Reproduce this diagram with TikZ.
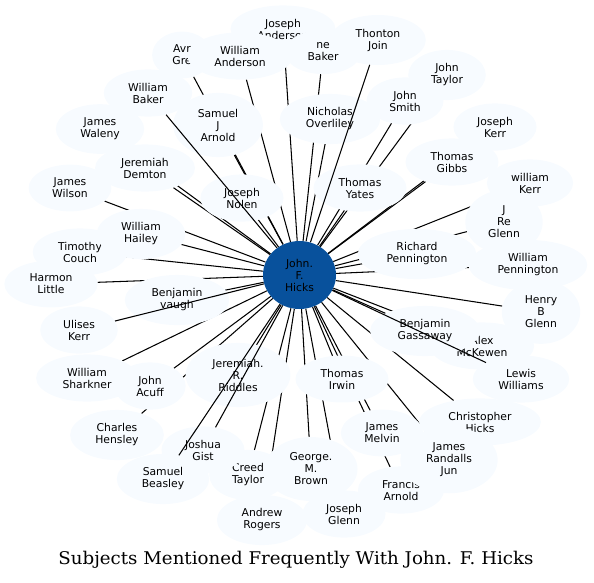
\documentclass[tikz,border=0pt]{standalone}
\usepackage{fontspec}
\setsansfont{DejaVu Sans}
\newfontfamily\titlefont{DejaVu Serif}
\usetikzlibrary{shapes.geometric}
\definecolor{nodefill}{HTML}{F7FBFF}
\definecolor{hubfill}{HTML}{08519C}
\pgfdeclarelayer{edgelayer}
\pgfdeclarelayer{overlayer}
\pgfdeclarelayer{hublayer}
\pgfsetlayers{edgelayer,main,overlayer,hublayer}
\tikzset{
  pers/.style={ellipse, fill=nodefill, inner xsep=11.5pt, inner ysep=6.5pt, align=center,
    font=\sffamily\fontsize{10.8}{12}\selectfont},
  hub/.style={ellipse, fill=hubfill, minimum width=73pt, minimum height=68pt, inner sep=0pt,
    align=center, font=\sffamily\fontsize{10.8}{12}\selectfont},
  link/.style={line width=1.05pt, black},
  titletext/.style={font=\titlefont\fontsize{17.5}{20}\selectfont}
}
\begin{document}
\begin{tikzpicture}[x=1pt,y=-1pt]
\useasboundingbox (0,0) rectangle (594,582);
\begin{pgfonlayer}{hublayer}
\node[hub] (hub) at (299.5,275) {John.\\F.\\Hicks};
\end{pgfonlayer}
% nodes, bottom to top
\node[pers] (jan) at (283,29) {Joseph\\Anderson};
\node[pers] (nba) at (323,52) {ne\\Baker};
\node[pers] (avg) at (182,55) {Avr\\Gre};
\node[pers] (wan) at (240,56) {William\\Anderson};
\node[pers] (thj) at (378,40) {Thonton\\Join};
\node[pers] (jta) at (447,75) {John\\Taylor};
\node[pers] (jsm) at (405,101) {John\\Smith};
\node[pers] (nov) at (330,119) {Nicholas\\Overliley};
\node[pers] (wba) at (148,93) {William\\Baker};
\node[pers] (jwa) at (100,129) {James\\Waleny};
\node[pers] (sja) at (218,125) {Samuel\\J\\Arnold};
\node[pers] (jke) at (495,127) {Joseph\\Kerr};
\node[pers] (tgi) at (452,162) {Thomas\\Gibbs};
\node[pers] (jde) at (145,168) {Jeremiah\\Demton};
\node[pers] (jwi) at (70,188) {James\\Wilson};
\node[pers] (wke) at (530,183) {william\\Kerr};
\node[pers] (tya) at (360,188) {Thomas\\Yates};
\node[pers] (jno) at (242,198) {Joseph\\Nolen};
\node[pers] (jrg) at (504,222) {J\\Re\\Glenn};
\node[pers] (tco) at (80,252) {Timothy\\Couch};
\node[pers] (wha) at (141,234) {William\\Hailey};
\node[pers] (rpe) at (417,254) {Richard\\Pennington};
\node[pers] (wpe) at (528,265) {William\\Pennington};
\node[pers] (hli) at (51,284) {Harmon\\Little};
\node[pers] (bva) at (177,300) {Benjamin\\vaugh};
\node[pers] (hbg) at (541,312) {Henry\\B\\Glenn};
\node[pers] (uke) at (79,330) {Ulises\\Kerr};
\node[pers] (amc) at (482,346) {Alex\\McKewen};
\node[pers] (bga) at (425,331) {Benjamin\\Gassaway};
\node[pers] (wsh) at (87,378) {William\\Sharkner};
\node[pers] (jac) at (150,386) {John\\Acuff};
\node[pers] (lwi) at (521,379) {Lewis\\Williams};
\node[pers] (jrr) at (238,375) {Jeremiah.\\R.\\Riddles};
\node[pers] (tir) at (342,379) {Thomas\\Irwin};
\node[pers] (chi) at (480,422) {Christopher\\Hicks};
\node[pers] (che) at (117,435) {Charles\\Hensley};
\node[pers] (jme) at (382,433) {James\\Melvin};
\node[pers] (cta) at (248,475) {Creed\\Taylor};
\node[pers] (jgi) at (203,450) {Joshua\\Gist};
\node[pers] (sbe) at (163,479) {Samuel\\Beasley};
\node[pers] (fra) at (401,490) {Francis\\Arnold};
\node[pers] (jrj) at (449,460) {James\\Randalls\\Jun};
\node[pers] (gbr) at (311,469) {George.\\M.\\Brown};
\node[pers] (aro) at (262,520) {Andrew\\Rogers};
\node[pers] (jgl) at (344,514) {Joseph\\Glenn};
% connectors under the nodes
\begin{pgfonlayer}{edgelayer}
\foreach \n in {jan,nba,avg,wan,jta,jsm,nov,jwa,sja,jke,tgi,jde,jwi,wke,tya,jno,jrg,tco,wha,rpe,wpe,hli,bva,hbg,amc,bga,wsh,jac,jrr,tir,chi,che,jme,cta,fra,jrj,gbr,aro,jgl}
  \draw[link] (hub) -- (\n);
\end{pgfonlayer}
% connectors over the nodes
\begin{pgfonlayer}{overlayer}
\foreach \n in {thj,wba,uke,sbe,jgi,lwi}
  \draw[link] (hub) -- (\n);
\end{pgfonlayer}
\node[titletext] (title) at (296,560) {\scalebox{1.04}[1]{Subjects Mentioned Frequently With John. F. Hicks}};
\end{tikzpicture}
\end{document}
